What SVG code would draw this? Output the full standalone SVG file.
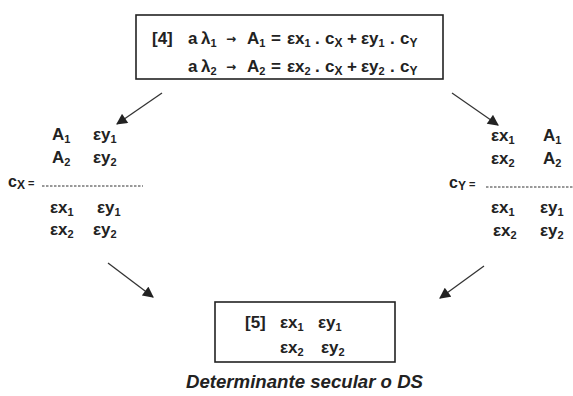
<svg xmlns="http://www.w3.org/2000/svg" width="573" height="396" viewBox="0 0 573 396">
<style>
text{font-family:"Liberation Sans",Arial,sans-serif;font-weight:bold;font-size:17px;fill:#222}
.s{font-size:11px}
.sc{font-size:12px}
.ar{font-family:"DejaVu Sans",sans-serif;font-size:12px}
.cap{font-style:italic;font-size:18px}
.box{fill:none;stroke:#222;stroke-width:1.6}
.conn line{stroke:#333;stroke-width:1.3}
.dash{stroke:#333;stroke-width:1;stroke-dasharray:2.5,1.5}
</style>
<defs>
<marker id="ah" viewBox="0 0 10 10" refX="9" refY="5" markerWidth="12" markerHeight="11" markerUnits="userSpaceOnUse" orient="auto">
<path d="M0,0 L10,5 L0,10 z" fill="#222"/>
</marker>
</defs>
<rect width="573" height="396" fill="#fff"/>
<g id="eq4">
<rect class="box" x="136" y="15" width="307" height="64"/>
<text y="44"><tspan x="152">[4]</tspan><tspan x="188">a</tspan><tspan x="201">λ</tspan><tspan class="s" dy="3">1</tspan><tspan class="ar" x="226" dy="-4">→</tspan><tspan x="247" dy="1">A</tspan><tspan class="s" dy="3">1</tspan><tspan x="271" dy="-3">=</tspan><tspan x="287">εx</tspan><tspan class="s" dy="3">1</tspan><tspan x="315" dy="-3">.</tspan><tspan x="325">c</tspan><tspan class="sc" dy="3">X</tspan><tspan x="347" dy="-3">+</tspan><tspan x="361">εy</tspan><tspan class="s" dy="3">1</tspan><tspan x="390" dy="-3">.</tspan><tspan x="400">c</tspan><tspan class="sc" dy="3">Y</tspan></text>
<text y="72"><tspan x="188">a</tspan><tspan x="201">λ</tspan><tspan class="s" dy="3">2</tspan><tspan class="ar" x="226" dy="-4">→</tspan><tspan x="247" dy="1">A</tspan><tspan class="s" dy="3">2</tspan><tspan x="271" dy="-3">=</tspan><tspan x="287">εx</tspan><tspan class="s" dy="3">2</tspan><tspan x="315" dy="-3">.</tspan><tspan x="325">c</tspan><tspan class="sc" dy="3">X</tspan><tspan x="347" dy="-3">+</tspan><tspan x="361">εy</tspan><tspan class="s" dy="3">2</tspan><tspan x="390" dy="-3">.</tspan><tspan x="400">c</tspan><tspan class="sc" dy="3">Y</tspan></text>
</g>
<g id="cx">
<text x="52" y="140">A<tspan class="s" dy="3">1</tspan></text>
<text x="93" y="140">εy<tspan class="s" dy="3">1</tspan></text>
<text x="52" y="163">A<tspan class="s" dy="3">2</tspan></text>
<text x="93" y="163">εy<tspan class="s" dy="3">2</tspan></text>
<text x="8" y="187" style="font-size:16px">c<tspan class="sc" dy="2">X</tspan><tspan dy="-2" style="font-size:11px"> =</tspan></text>
<line class="dash" x1="42" y1="186" x2="143" y2="186"/>
<text x="50" y="213">εx<tspan class="s" dy="3">1</tspan></text>
<text x="97" y="213">εy<tspan class="s" dy="3">1</tspan></text>
<text x="50" y="235">εx<tspan class="s" dy="3">2</tspan></text>
<text x="93" y="235">εy<tspan class="s" dy="3">2</tspan></text>
</g>
<g id="cy">
<text x="491" y="141">εx<tspan class="s" dy="3">1</tspan></text>
<text x="543" y="141">A<tspan class="s" dy="3">1</tspan></text>
<text x="491" y="164">εx<tspan class="s" dy="3">2</tspan></text>
<text x="543" y="164">A<tspan class="s" dy="3">2</tspan></text>
<text x="449" y="188" style="font-size:16px">c<tspan class="sc" dy="2">Y</tspan><tspan dy="-2" style="font-size:11px"> =</tspan></text>
<line class="dash" x1="486" y1="187" x2="573" y2="187"/>
<text x="491" y="213">εx<tspan class="s" dy="3">1</tspan></text>
<text x="540" y="213">εy<tspan class="s" dy="3">1</tspan></text>
<text x="493" y="236">εx<tspan class="s" dy="3">2</tspan></text>
<text x="540" y="236">εy<tspan class="s" dy="3">2</tspan></text>
</g>
<g id="eq5">
<rect class="box" x="215" y="302" width="180" height="60"/>
<text x="245" y="328">[5]</text>
<text x="280" y="328">εx<tspan class="s" dy="3">1</tspan></text>
<text x="318" y="328">εy<tspan class="s" dy="3">1</tspan></text>
<text x="280" y="353">εx<tspan class="s" dy="3">2</tspan></text>
<text x="321" y="353">εy<tspan class="s" dy="3">2</tspan></text>
</g>
<g id="caption">
<text class="cap" x="186" y="388" textLength="237" lengthAdjust="spacingAndGlyphs">Determinante secular o DS</text>
</g>
<g class="conn" id="connectors">
<line x1="162" y1="93" x2="117" y2="124" marker-end="url(#ah)"/>
<line x1="452" y1="93" x2="498" y2="125" marker-end="url(#ah)"/>
<line x1="108" y1="263" x2="153" y2="297" marker-end="url(#ah)"/>
<line x1="484" y1="266" x2="440" y2="298" marker-end="url(#ah)"/>
</g>
</svg>
